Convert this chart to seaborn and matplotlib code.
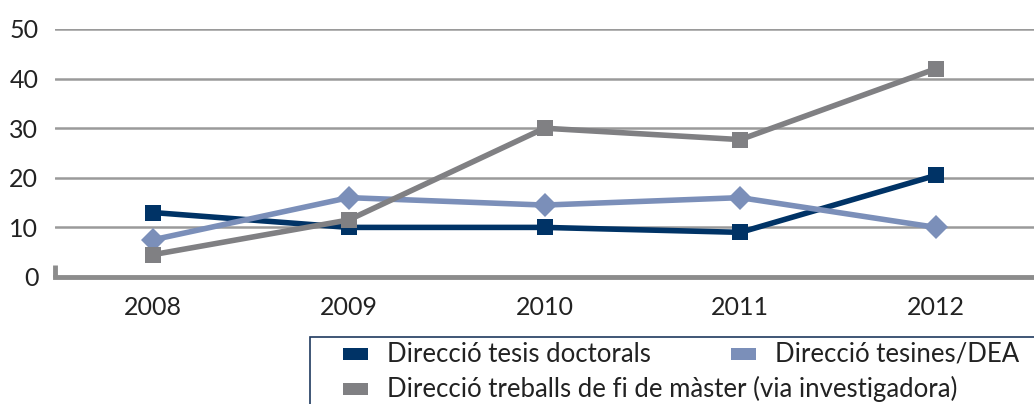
import pandas as pd, numpy as np, matplotlib
matplotlib.use('Agg')
import matplotlib.pyplot as plt
import matplotlib.patches as mpatches
import seaborn as sns

sns.set_theme(style='white')
plt.rcParams['font.family'] = ['Lato', 'DejaVu Sans']

years = ['2008', '2009', '2010', '2011', '2012']
tesis = [13, 10, 10, 9, 20.5]
tesines = [7.5, 16, 14.5, 16, 10]
master = [4.5, 11.5, 30, 27.7, 42]
names = ['Direcció tesis doctorals', 'Direcció tesines/DEA',
         'Direcció treballs de fi de màster (via investigadora)']
colors = ['#003366', '#7b8fb9', '#808083']
markers = ['s', 'D', 's']

df = pd.DataFrame({'any': years * 3,
                   'valor': tesis + tesines + master,
                   'serie': [names[0]] * 5 + [names[1]] * 5 + [names[2]] * 5})

W, H = 1034, 404
fig = plt.figure(figsize=(W / 100, H / 100), dpi=100)
ax = fig.add_axes([55 / W, 127 / H, 1 - 55 / W, 248 / H])

for n, c, m in zip(names, colors, markers):
    sub = df[df['serie'] == n]
    sns.lineplot(data=sub, x='any', y='valor', ax=ax, color=c, lw=4,
                 marker=m, markersize=11 if m == 's' else 12,
                 markeredgewidth=0, sort=False, zorder=3)

ax.set_xlim(-0.5, 4.5)
ax.set_ylim(0, 50)
ax.set_yticks([0, 10, 20, 30, 40, 50])
ax.yaxis.grid(True, color='#9a9a9a', lw=1.8)
ax.set_axisbelow(True)
for s in ['top', 'right', 'left']:
    ax.spines[s].set_visible(False)
ax.spines['bottom'].set_color('#8c8c8c')
ax.spines['bottom'].set_linewidth(3.5)
ax.tick_params(axis='both', length=0, labelsize=18, colors='#222222')
ax.tick_params(axis='x', pad=14)
ax.tick_params(axis='y', pad=12)
ax.set_xlabel('')
ax.set_ylabel('')
ax.plot([-0.5, -0.5], [0, 2.5], color='#8c8c8c', lw=3.5, clip_on=False,
        solid_capstyle='butt')
if ax.get_legend():
    ax.get_legend().remove()

# legend box (clipped at the figure edge like the original)
fig.patches.append(mpatches.Rectangle((310 / W, -0.2), 1, 0.2 + 67 / H,
                                      transform=fig.transFigure, fill=False,
                                      edgecolor='#1f3a5f', lw=1.2))
items = [(343, 354, 0), (731, 354, 1), (343, 389, 2)]
for x, y, i in items:
    fig.patches.append(mpatches.Rectangle((x / W, (H - y - 6) / H), 25 / W, 12 / H,
                                          transform=fig.transFigure,
                                          facecolor=colors[i], edgecolor='none'))
    fig.text((x + 44) / W, 1 - y / H, names[i], ha='left', va='center',
             fontsize=18.5, color='#222222')

plt.savefig('out.png', dpi=100)
plt.close()
